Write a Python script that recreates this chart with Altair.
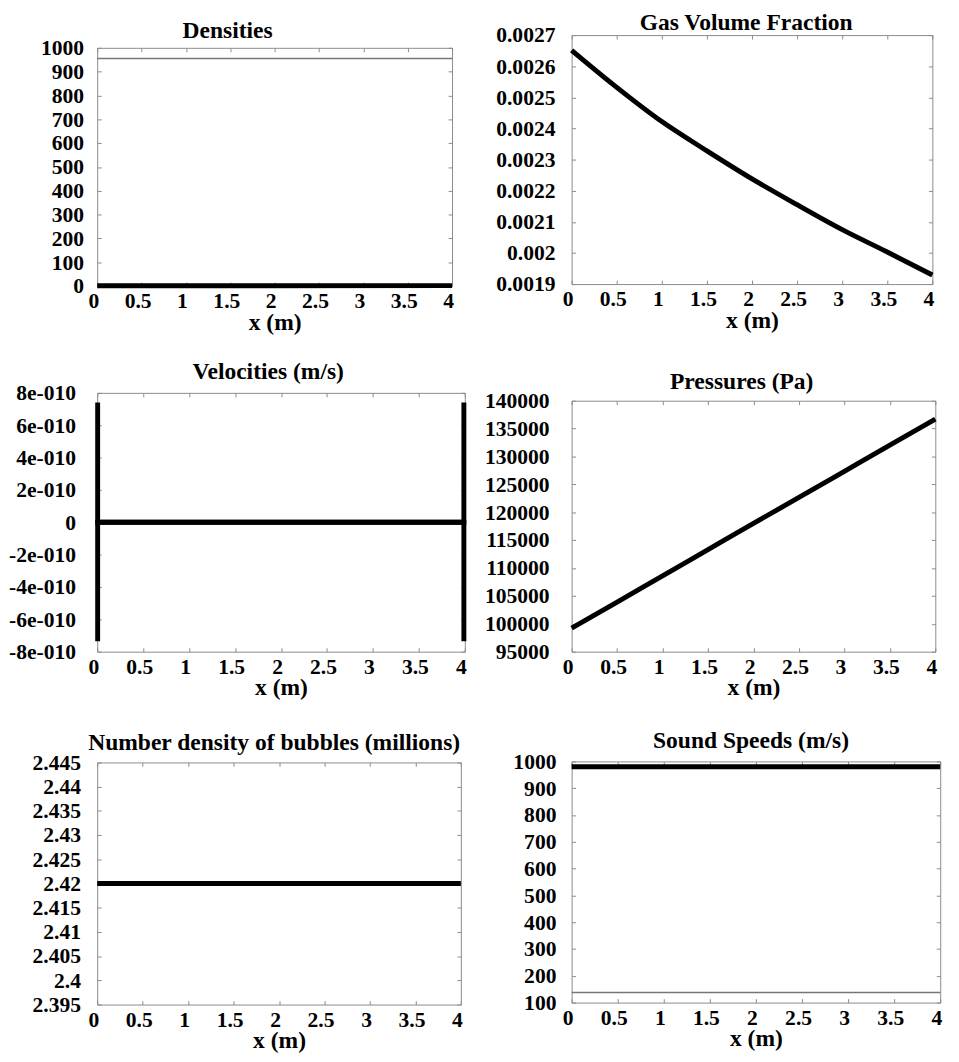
import altair as alt
import pandas as pd

FONT = "Liberation Serif"
GRAY = "#8a8a8a"

# ---------------- data ----------------
x_ticks = [0, 0.5, 1, 1.5, 2, 2.5, 3, 3.5, 4]

dens_x = [0, 4]
dens_liquid = [955, 955]
dens_gas = [1.2, 1.6]
dens_ticks = [0, 100, 200, 300, 400, 500, 600, 700, 800, 900, 1000]

gvf_x = [0, 0.5, 1, 1.5, 2, 2.5, 3, 3.5, 4]
gvf_y = [0.002651, 0.002532, 0.002422, 0.002328, 0.002238, 0.002155, 0.002075, 0.002003, 0.001929]
gvf_ticks = [0.0019, 0.002, 0.0021, 0.0022, 0.0023, 0.0024, 0.0025, 0.0026, 0.0027]

vel_x = [0.005, 0.005, 3.99, 3.99]
vel_a = [7.4e-10, 0, 0, 7.4e-10]
vel_b = [-7.35e-10, 0, 0, -7.35e-10]
vel_ticks = [-8e-10, -6e-10, -4e-10, -2e-10, 0, 2e-10, 4e-10, 6e-10, 8e-10]

pres_x = [0, 0.5, 1, 1.5, 2, 2.5, 3, 3.5, 4]
pres_y = [99230, 103900, 108600, 113300, 118000, 122650, 127350, 132050, 136700]
pres_ticks = [95000, 100000, 105000, 110000, 115000, 120000, 125000, 130000, 135000, 140000]

nd_x = [0, 4]
nd_y = [2.42, 2.42]
nd_ticks = [2.395, 2.4, 2.405, 2.41, 2.415, 2.42, 2.425, 2.43, 2.435, 2.44, 2.445]

ss_x = [0, 4]
ss_liquid = [980, 980]
ss_mix = [138, 138]
ss_ticks = [100, 200, 300, 400, 500, 600, 700, 800, 900, 1000]


def frame(xs, ys):
    return pd.DataFrame({"x": xs, "y": ys, "o": list(range(len(xs)))})


def guide(orient, values, offset, ticks=False, domain=False):
    return alt.Axis(orient=orient, values=values, offset=offset, ticks=ticks,
                    tickSize=4, tickColor=GRAY, domain=domain, domainColor=GRAY,
                    domainWidth=1, labels=False, grid=False,
                    minExtent=0, maxExtent=0)


def panel(title, series, ydom, yticks, w, h, lab_pad, title_dx, title_offset,
          tpad=0, yfmt=None, yexpr=None):
    xs = alt.Scale(domain=[0, 4], nice=False, zero=False)
    ys = alt.Scale(domain=ydom, nice=False, zero=False, range=[h, tpad])
    bottom = alt.Axis(values=x_ticks, format="~g", orient="bottom", offset=-4,
                      tickSize=4, domain=False, grid=False, tickColor=GRAY,
                      labelFont=FONT, labelFontSize=22, labelFontWeight="bold",
                      labelColor="black", labelPadding=5, labelOffset=-4,
                      labelFlush=False, labelOverlap=False,
                      titleFont=FONT, titleFontSize=24, titleFontWeight="bold",
                      titleColor="black", titlePadding=-1)
    left_kw = dict(values=yticks, orient="left", offset=-4, tickSize=4,
                   domain=False, grid=False, tickColor=GRAY, labelFont=FONT,
                   labelFontSize=22, labelFontWeight="bold", labelColor="black",
                   labelPadding=lab_pad, labelFlush=False, labelOverlap=False)
    if yfmt is not None:
        left_kw["format"] = yfmt
    if yexpr is not None:
        left_kw["labelExpr"] = yexpr
    left = alt.Axis(**left_kw)

    base = series[0][0]
    layers = []
    # frame (box) drawn from axis domain lines
    layers.append(alt.Chart(base).mark_line(opacity=0).encode(
        x=alt.X("x:Q", scale=xs, axis=guide("bottom", x_ticks, 0, domain=True), title=None),
        y=alt.Y("y:Q", scale=ys, axis=guide("left", yticks, 0, domain=True), title=None)))
    layers.append(alt.Chart(base).mark_line(opacity=0).encode(
        x=alt.X("x:Q", scale=xs, axis=guide("top", x_ticks, -tpad, domain=True), title=None),
        y=alt.Y("y:Q", scale=ys, axis=guide("right", yticks, 0, domain=True), title=None)))
    # inward ticks on top and right
    layers.append(alt.Chart(base).mark_line(opacity=0).encode(
        x=alt.X("x:Q", scale=xs, axis=guide("top", x_ticks, -(tpad + 4), ticks=True), title=None),
        y=alt.Y("y:Q", scale=ys, axis=guide("right", yticks, -4, ticks=True), title=None)))
    for i, (df, color, sw) in enumerate(series):
        if i == 0:
            xe = alt.X("x:Q", scale=xs, axis=bottom, title="x (m)")
            ye = alt.Y("y:Q", scale=ys, axis=left, title=None)
        else:
            xe = alt.X("x:Q", scale=xs, axis=None)
            ye = alt.Y("y:Q", scale=ys, axis=None)
        layers.append(
            alt.Chart(df).mark_line(color=color, strokeWidth=sw, strokeCap="butt",
                                    interpolate="monotone")
            .encode(x=xe, y=ye, order="o:Q")
        )
    tkw = dict(text=title, font=FONT, fontSize=24, fontWeight="bold", color="black",
               anchor="middle", frame="group", dx=title_dx, offset=title_offset)
    return (alt.layer(*layers)
            .resolve_axis(x="independent", y="independent")
            .properties(width=w, height=h, title=alt.TitleParams(**tkw)))


p1 = panel("Densities",
           [(frame(dens_x, dens_liquid), "#777777", 1.5), (frame(dens_x, dens_gas), "black", 5)],
           [0, 1000], dens_ticks, 362, 256, 14, -48, -8, tpad=13, yfmt="d")
p2 = panel("Gas Volume Fraction", [(frame(gvf_x, gvf_y), "black", 5)],
           [0.0019, 0.0027], gvf_ticks, 368, 254, 17, -6, -11, yfmt="~g")
p3 = panel("Velocities (m/s)",
           [(frame(vel_x, vel_a), "black", 5), (frame(vel_x, vel_b), "black", 5)],
           [-8e-10, 8e-10], vel_ticks, 375, 264, 22, -13, -2,
           yexpr="datum.value == 0 ? '0' : (datum.value < 0 ? '-' : '') + abs(round(datum.value * 1e10)) + 'e-010'")
p4 = panel("Pressures (Pa)", [(frame(pres_x, pres_y), "black", 5)],
           [95000, 140000], pres_ticks, 371, 256, 23, -12, -4, yfmt="d")
p5 = panel("Number density of bubbles (millions)", [(frame(nd_x, nd_y), "black", 5)],
           [2.395, 2.445], nd_ticks, 371, 247, 17, -5, -3, yfmt="~g")
p6 = panel("Sound Speeds (m/s)",
           [(frame(ss_x, ss_mix), "#777777", 1.5), (frame(ss_x, ss_liquid), "black", 5)],
           [100, 1000], ss_ticks, 376, 246, 16, -5, -2, yfmt="d")

left_col = alt.vconcat(alt.vconcat(p1, p3, spacing=25), p5, spacing=30)
right_col = alt.vconcat(alt.vconcat(p2, p4, spacing=37), p6, spacing=28)

chart = (alt.hconcat(left_col, right_col, spacing=9)
         .properties(padding={"left": 0, "top": -8, "right": 0, "bottom": 0},
                     background="white")
         .configure_view(stroke="transparent"))

chart.save("out.html", embed_options={"renderer": "svg", "actions": False})
